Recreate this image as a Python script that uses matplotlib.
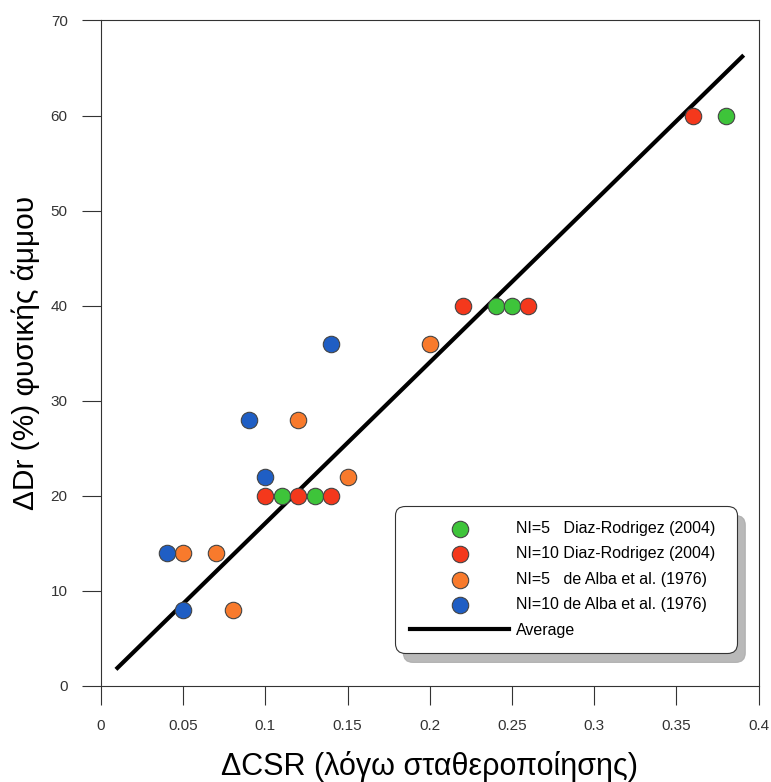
import numpy as np
import matplotlib
matplotlib.use("Agg")
import matplotlib.pyplot as plt

plt.rcParams['font.family'] = ['Liberation Sans', 'DejaVu Sans']

# data
x_ni5_diaz = [0.11, 0.13, 0.24, 0.25, 0.38]
y_ni5_diaz = [20, 20, 40, 40, 60]
x_ni10_diaz = [0.10, 0.12, 0.14, 0.22, 0.26, 0.36]
y_ni10_diaz = [20, 20, 20, 40, 40, 60]
x_ni5_alba = [0.05, 0.07, 0.08, 0.12, 0.15, 0.20]
y_ni5_alba = [14, 14, 8, 28, 22, 36]
x_ni10_alba = [0.04, 0.05, 0.09, 0.10, 0.14]
y_ni10_alba = [14, 8, 28, 22, 36]
avg_x = [0.01, 0.39]
avg_y = [1.9, 66.2]

xticks = [0, 0.05, 0.1, 0.15, 0.2, 0.25, 0.3, 0.35, 0.4]
xticklabels = ['0', '0.05', '0.1', '0.15', '0.2', '0.25', '0.3', '0.35', '0.4']
yticks = [0, 10, 20, 30, 40, 50, 60, 70]

fig = plt.figure(figsize=(7.71, 7.82), dpi=100)
ax = fig.add_axes([0.131, 0.1228, 0.853, 0.851])

ms = 140
ax.plot(avg_x, avg_y, color='black', lw=3, label='Average', zorder=2)
s1 = ax.scatter(x_ni5_diaz, y_ni5_diaz, s=ms, c='#3ec43a', edgecolors='#444444', lw=0.8, zorder=3,
                label='NI=5   Diaz-Rodrigez (2004)')
s2 = ax.scatter(x_ni10_diaz, y_ni10_diaz, s=ms, c='#f4381c', edgecolors='#444444', lw=0.8, zorder=3,
                label='NI=10 Diaz-Rodrigez (2004)')
s3 = ax.scatter(x_ni5_alba, y_ni5_alba, s=ms, c='#f87a2c', edgecolors='#444444', lw=0.8, zorder=3,
                label='NI=5   de Alba et al. (1976)')
s4 = ax.scatter(x_ni10_alba, y_ni10_alba, s=ms, c='#1f5ec4', edgecolors='#444444', lw=0.8, zorder=3,
                label='NI=10 de Alba et al. (1976)')

ax.set_xlim(0, 0.4)
ax.set_ylim(0, 70)
ax.set_xticks(xticks)
ax.set_xticklabels(xticklabels)
ax.set_yticks(yticks)
ax.tick_params(direction='out', length=14, width=0.8, labelsize=11, pad=10, colors='#333333')
for sp in ax.spines.values():
    sp.set_linewidth(0.8)
    sp.set_color('#333333')

ax.set_xlabel('ΔCSR (λόγω σταθεροποίησης)', fontsize=22, va='top')
ax.xaxis.set_label_coords(0.5, -0.098)
ax.set_ylabel('ΔDr (%) φυσικής άμμου', fontsize=21.5)
ax.yaxis.set_label_coords(-0.093, 0.5)

handles = [s1, s2, s3, s4, ax.lines[0]]
leg = ax.legend(handles=handles, loc='lower left', bbox_to_anchor=(0.447, 0.05, 0.52, 0.225),
                mode='expand', borderaxespad=0, fontsize=11.5, handlelength=6.2, handletextpad=0.4,
                labelspacing=0.65, fancybox=True,
                shadow={'color': '#a8a8a8', 'alpha': 0.8, 'ox': 6, 'oy': -7},
                framealpha=1, edgecolor='#333333', borderpad=0.95)
leg.get_frame().set_linewidth(0.8)
leg.get_frame().set_boxstyle('round,pad=0,rounding_size=0.6')

fig.savefig('out.png', dpi=100)
